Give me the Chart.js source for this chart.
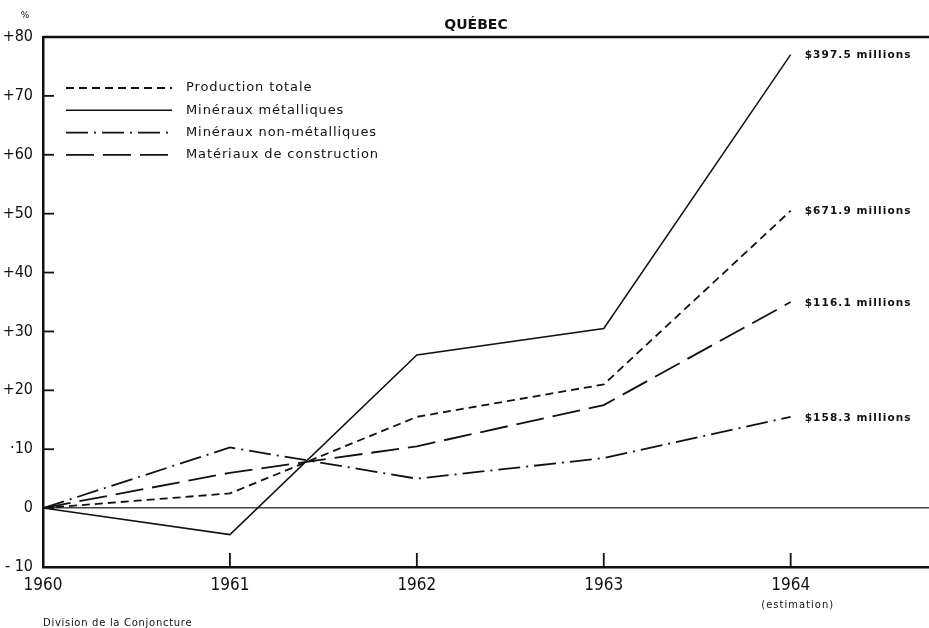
<!DOCTYPE html>
<html>
<head>
<meta charset="utf-8">
<script src="https://cdn.jsdelivr.net/npm/chart.js@4/dist/chart.umd.min.js"></script>
<style>
  html, body { margin: 0; padding: 0; background: #fff; }
  #wrap { width: 929px; height: 628px; position: relative; }
</style>
</head>
<body>
<div id="wrap"><canvas id="c" width="929" height="628"></canvas></div>
<script>
// ---- Data ----
const years = [1960, 1961, 1962, 1963, 1964];
const yearLabels = ['1960', '1961', '1962', '1963', '1964'];
const productionTotale = [0, 2.5, 15.5, 21, 50.5];
const mineraux_metalliques = [0, -4.5, 26, 30.5, 77];
const mineraux_nonMetalliques = [0, 10.3, 5, 8.5, 15.5];
const materiaux_construction = [0, 6, 10.5, 17.5, 35];
const seriesNames = ['Production totale', 'Minéraux métalliques', 'Minéraux non-métalliques', 'Matériaux de construction'];
const endLabels = ['$671.9 millions', '$397.5 millions', '$158.3 millions', '$116.1 millions'];
const yTickValues = [-10, 0, 10, 20, 30, 40, 50, 60, 70, 80];
const yTickLabels = ['- 10', '0', '·10', '+20', '+30', '+40', '+50', '+60', '+70', '+80'];
const titleText = 'QUÉBEC';
const unitText = '%';
const sourceText = 'Division de la Conjoncture';
const estimationText = '(estimation)';

const seriesValues = [productionTotale, mineraux_metalliques, mineraux_nonMetalliques, materiaux_construction];
const dashes = [[8, 5], [], [22, 6, 2, 6], [28, 9]];
const widths = [1.8, 1.5, 1.8, 1.8];

const narrow = '"DejaVu Sans Condensed", "Liberation Sans Narrow", sans-serif';
const geo = '"DejaVu Sans", "Noto Sans", sans-serif';

const datasets = seriesValues.map((vals, i) => ({
  label: seriesNames[i],
  data: years.map((y, j) => ({ x: y, y: vals[j] })),
  borderColor: '#111',
  borderWidth: widths[i],
  borderDash: dashes[i],
  pointRadius: 0,
  tension: 0,
  fill: false
}));

const decor = {
  id: 'decor',
  afterDraw(chart) {
    const ctx = chart.ctx;
    const ca = chart.chartArea;
    const xs = chart.scales.x, ys = chart.scales.y;
    ctx.save();
    ctx.strokeStyle = '#111';
    ctx.fillStyle = '#111';
    // top border
    ctx.lineWidth = 2.5;
    ctx.beginPath();
    ctx.moveTo(ca.left, ca.top);
    ctx.lineTo(ca.right, ca.top);
    ctx.stroke();
    // inward y ticks
    ctx.lineWidth = 1.8;
    yTickValues.forEach(v => {
      if (v === -10 || v === 80) return;
      const py = ys.getPixelForValue(v);
      ctx.beginPath();
      ctx.moveTo(ca.left, py);
      ctx.lineTo(ca.left + 11, py);
      ctx.stroke();
    });
    // inward x ticks
    years.forEach((yv, i) => {
      if (i === 0) return;
      const px = xs.getPixelForValue(yv);
      ctx.beginPath();
      ctx.moveTo(px, ca.bottom);
      ctx.lineTo(px, ca.bottom - 14);
      ctx.stroke();
    });
    // title
    ctx.font = 'bold 14px ' + geo;
    ctx.textAlign = 'center';
    ctx.textBaseline = 'middle';
    ctx.fillText(titleText, 476, 25);
    // unit
    ctx.font = '9px ' + geo;
    ctx.fillText(unitText, 25, 16);
    // legend
    const lx0 = 66, lx1 = 172, ly0 = 88, ldy = 22.3;
    chart.data.datasets.forEach((ds, i) => {
      const yy = ly0 + i * ldy;
      ctx.setLineDash(ds.borderDash);
      ctx.lineWidth = ds.borderWidth;
      ctx.beginPath();
      ctx.moveTo(lx0, yy);
      ctx.lineTo(lx1, yy);
      ctx.stroke();
      ctx.setLineDash([]);
      ctx.font = '13px ' + geo;
      ctx.textAlign = 'left';
      ctx.letterSpacing = '0.9px';
      ctx.fillText(ds.label, 186, yy);
    });
    // end labels
    ctx.font = 'bold 10.5px ' + geo;
    ctx.letterSpacing = '1.1px';
    ctx.textAlign = 'left';
    chart.data.datasets.forEach((ds, i) => {
      const last = ds.data[ds.data.length - 1];
      const px = xs.getPixelForValue(last.x) + 14;
      const py = ys.getPixelForValue(last.y) + 1;
      ctx.fillText(endLabels[i], px, py);
    });
    // estimation
    ctx.font = '10px ' + geo;
    ctx.letterSpacing = '1px';
    ctx.textAlign = 'center';
    ctx.fillText(estimationText, xs.getPixelForValue(years[years.length - 1]) + 7, 605);
    // source
    ctx.textAlign = 'left';
    ctx.letterSpacing = '0.7px';
    ctx.fillText(sourceText, 43, 623);
    ctx.restore();
  }
};

new Chart(document.getElementById('c'), {
  type: 'line',
  data: { datasets },
  options: {
    responsive: false,
    animation: false,
    events: [],
    layout: { padding: { top: 37, right: 0, left: 0, bottom: 0 } },
    plugins: { legend: { display: false }, tooltip: { enabled: false }, title: { display: false } },
    scales: {
      x: {
        type: 'linear',
        min: 1960,
        max: 1964.74,
        afterBuildTicks: s => { s.ticks = years.map(v => ({ value: v })); },
        afterFit: s => { s.height = 61; },
        ticks: {
          autoSkip: false,
          maxRotation: 0,
          padding: 8,
          color: '#111',
          font: { family: narrow, size: 17 },
          callback: v => yearLabels[years.indexOf(v)]
        },
        grid: { drawTicks: false, color: 'transparent' },
        border: { color: '#111', width: 2.5 }
      },
      y: {
        type: 'linear',
        min: -10,
        max: 80,
        afterBuildTicks: s => { s.ticks = yTickValues.map(v => ({ value: v })); },
        afterFit: s => { s.width = 43; },
        ticks: {
          padding: 10,
          color: '#111',
          font: { family: narrow, size: 16 },
          callback: v => yTickLabels[yTickValues.indexOf(v)]
        },
        grid: {
          drawTicks: false,
          color: c => (c.tick && c.tick.value === 0) ? '#444' : 'transparent',
          lineWidth: 1.6
        },
        border: { color: '#111', width: 2.5 }
      }
    }
  },
  plugins: [decor]
});
</script>
</body>
</html>
